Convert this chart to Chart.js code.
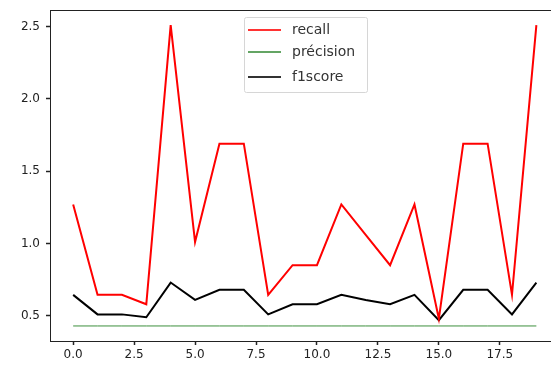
<!DOCTYPE html>
<html>
<head>
<meta charset="utf-8">
<script src="https://cdn.jsdelivr.net/npm/chart.js@4"></script>
<style>
  html, body { margin: 0; padding: 0; background: #fff; overflow: hidden; }
</style>
</head>
<body>
<canvas id="chart" width="551" height="371"></canvas>
<script>
// values
const epochs = [0, 1, 2, 3, 4, 5, 6, 7, 8, 9, 10, 11, 12, 13, 14, 15, 16, 17, 18, 19];
const recall = [1.27, 0.645, 0.645, 0.58, 2.51, 1.01, 1.69, 1.69, 0.645, 0.85, 0.85, 1.27, 1.06, 0.85, 1.27, 0.48, 1.69, 1.69, 0.645, 2.51];
const precision = [0.43, 0.43, 0.43, 0.43, 0.43, 0.43, 0.43, 0.43, 0.43, 0.43, 0.43, 0.43, 0.43, 0.43, 0.43, 0.43, 0.43, 0.43, 0.43, 0.43];
const f1score = [0.645, 0.51, 0.51, 0.49, 0.73, 0.61, 0.68, 0.68, 0.51, 0.58, 0.58, 0.645, 0.61, 0.58, 0.645, 0.47, 0.68, 0.68, 0.51, 0.73];

const xTicks = [0, 2.5, 5, 7.5, 10, 12.5, 15, 17.5];
const yTicks = [0.5, 1.0, 1.5, 2.0, 2.5];

const tickFont = { family: 'DejaVu Sans', size: 12 };

function points(ys) {
    return epochs.map((x, i) => ({ x: x, y: ys[i] }));
}

// legend box drawn inside the plot, like matplotlib's "best" spot
const innerLegend = {
    id: 'innerLegend',
    afterDraw(chart) {
        const ctx = chart.ctx;
        const x0 = 244, y0 = 17, w = 123, h = 75;
        ctx.save();
        ctx.fillStyle = 'rgba(255,255,255,0.85)';
        ctx.strokeStyle = '#d6d6d6';
        ctx.lineWidth = 1;
        ctx.beginPath();
        ctx.roundRect(x0 + 0.5, y0 + 0.5, w, h, 2);
        ctx.fill();
        ctx.stroke();
        ctx.font = '14px "DejaVu Sans"';
        ctx.textBaseline = 'middle';
        const rows = [30, 52, 77];
        chart.data.datasets.forEach((ds, i) => {
            ctx.strokeStyle = ds.borderColor;
            ctx.globalAlpha = 0.8;
            ctx.lineWidth = 2;
            ctx.beginPath();
            ctx.moveTo(248, rows[i]);
            ctx.lineTo(281, rows[i]);
            ctx.stroke();
            ctx.globalAlpha = 1;
            ctx.fillStyle = '#333';
            ctx.fillText(ds.label, 292, rows[i]);
        });
        ctx.restore();
    }
};

// top spine (no right spine: the reference is cut off before it)
const topSpine = {
    id: 'topSpine',
    afterDraw(chart) {
        const a = chart.chartArea, ctx = chart.ctx;
        ctx.save();
        ctx.strokeStyle = '#222';
        ctx.lineWidth = 1;
        ctx.beginPath();
        ctx.moveTo(a.left, Math.round(a.top) + 0.5);
        ctx.lineTo(a.right, Math.round(a.top) + 0.5);
        ctx.stroke();
        ctx.restore();
    }
};

new Chart(document.getElementById('chart').getContext('2d'), {
    type: 'line',
    data: {
        datasets: [
            { label: 'recall', data: points(recall), borderColor: '#ff0000', borderWidth: 2 },
            { label: 'précision', data: points(precision), borderColor: '#3d8f3d', borderWidth: 1 },
            { label: 'f1score', data: points(f1score), borderColor: '#000000', borderWidth: 2 }
        ]
    },
    options: {
        responsive: false,
        animation: false,
        layout: { padding: { top: 10, right: 0, left: 0, bottom: 0 } },
        elements: { point: { radius: 0 }, line: { tension: 0 } },
        plugins: { legend: { display: false }, tooltip: { enabled: false } },
        scales: {
            x: {
                type: 'linear',
                min: -0.95,
                max: 19.6,
                afterBuildTicks: axis => { axis.ticks = xTicks.map(v => ({ value: v })); },
                afterFit: axis => { axis.height = 30; axis.paddingLeft = 0; axis.paddingRight = 0; },
                ticks: {
                    font: tickFont,
                    color: '#222',
                    padding: 3,
                    maxRotation: 0,
                    callback: v => v.toFixed(1)
                },
                grid: { drawOnChartArea: false, tickLength: 4, tickColor: '#222', tickWidth: 1.5 },
                border: { color: '#222', width: 1 }
            },
            y: {
                min: 0.326,
                max: 2.614,
                afterBuildTicks: axis => { axis.ticks = yTicks.map(v => ({ value: v })); },
                afterFit: axis => { axis.width = 50; axis.paddingTop = 0; axis.paddingBottom = 0; },
                ticks: {
                    font: tickFont,
                    color: '#222',
                    padding: 6,
                    callback: v => v.toFixed(1)
                },
                grid: { drawOnChartArea: false, tickLength: 4, tickColor: '#222', tickWidth: 1.5 },
                border: { color: '#222', width: 1 }
            }
        }
    },
    plugins: [innerLegend, topSpine]
});
</script>
</body>
</html>
